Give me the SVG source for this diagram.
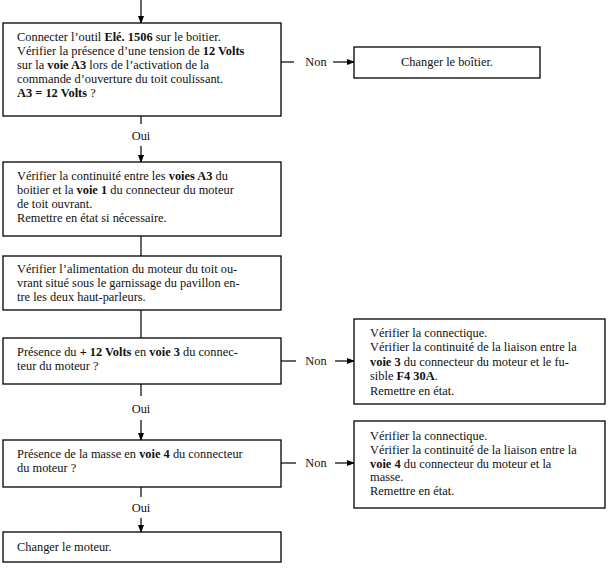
<svg xmlns="http://www.w3.org/2000/svg" width="611" height="572" viewBox="0 0 611 572">
<style>
.box{fill:#fff;stroke:#000;stroke-width:1.3}
.t{font-family:"Liberation Serif","DejaVu Serif",serif;font-size:12.4px;fill:#111}
.b{font-weight:bold}
.c{stroke:#000;stroke-width:1.2;fill:none}
.a{stroke:#000;stroke-width:1.2;fill:none;marker-end:url(#ah)}
.m{text-anchor:middle}
</style>
<defs>
<marker id="ah" markerWidth="8" markerHeight="6" refX="7" refY="3" orient="auto" markerUnits="userSpaceOnUse">
<path d="M0,0 L8,3 L0,6 z" fill="#000"/>
</marker>
</defs>
<rect width="611" height="572" fill="#fff"/>
<g id="connectors">
<line class="a" x1="141" y1="0" x2="141" y2="23"/>
<line class="c" x1="141" y1="116" x2="141" y2="124"/>
<text class="t m" x="141" y="140">Oui</text>
<line class="a" x1="141" y1="146" x2="141" y2="162"/>
<line class="c" x1="141" y1="236" x2="141" y2="256"/>
<line class="c" x1="141" y1="310" x2="141" y2="338"/>
<line class="c" x1="141" y1="384" x2="141" y2="396"/>
<text class="t m" x="141" y="413">Oui</text>
<line class="a" x1="141" y1="420" x2="141" y2="440"/>
<line class="c" x1="141" y1="487" x2="141" y2="497"/>
<text class="t m" x="141" y="512">Oui</text>
<line class="a" x1="141" y1="518" x2="141" y2="532"/>
<line class="c" x1="281" y1="62" x2="294" y2="62"/>
<text class="t m" x="316" y="66">Non</text>
<line class="a" x1="333" y1="62" x2="354" y2="62"/>
<line class="c" x1="281" y1="361" x2="296" y2="361"/>
<text class="t m" x="316" y="365">Non</text>
<line class="a" x1="335" y1="361" x2="354" y2="361"/>
<line class="c" x1="281" y1="463" x2="296" y2="463"/>
<text class="t m" x="316" y="467">Non</text>
<line class="a" x1="335" y1="463" x2="354" y2="463"/>
</g>
<g id="n1">
<rect class="box" x="3" y="23" width="278" height="93"/>
<text class="t" x="17" y="41">Connecter l’outil <tspan class="b">Elé. 1506</tspan> sur le boitier.</text>
<text class="t" x="17" y="55">Vérifier la présence d’une tension de <tspan class="b">12 Volts</tspan></text>
<text class="t" x="17" y="69">sur la <tspan class="b">voie A3</tspan> lors de l’activation de la</text>
<text class="t" x="17" y="83">commande d’ouverture du toit coulissant.</text>
<text class="t" x="17" y="97"><tspan class="b">A3 = 12 Volts</tspan> ?</text>
</g>
<g id="n2">
<rect class="box" x="354" y="47" width="186" height="31"/>
<text class="t m" x="447" y="66">Changer le boîtier.</text>
</g>
<g id="n3">
<rect class="box" x="3" y="162" width="278" height="74"/>
<text class="t" x="17" y="180">Vérifier la continuité entre les <tspan class="b">voies A3</tspan> du</text>
<text class="t" x="17" y="194">boitier et la <tspan class="b">voie 1</tspan> du connecteur du moteur</text>
<text class="t" x="17" y="208">de toit ouvrant.</text>
<text class="t" x="17" y="222">Remettre en état si nécessaire.</text>
</g>
<g id="n4">
<rect class="box" x="3" y="256" width="278" height="54"/>
<text class="t" x="17" y="273">Vérifier l’alimentation du moteur du toit ou-</text>
<text class="t" x="17" y="287">vrant situé sous le garnissage du pavillon en-</text>
<text class="t" x="17" y="301">tre les deux haut-parleurs.</text>
</g>
<g id="n5">
<rect class="box" x="3" y="338" width="278" height="46"/>
<text class="t" x="17" y="356">Présence du <tspan class="b">+ 12 Volts</tspan> en <tspan class="b">voie 3</tspan> du connec-</text>
<text class="t" x="17" y="370">teur du moteur ?</text>
</g>
<g id="n6">
<rect class="box" x="354" y="319" width="251" height="85"/>
<text class="t" x="370" y="337">Vérifier la connectique.</text>
<text class="t" x="370" y="351">Vérifier la continuité de la liaison entre la</text>
<text class="t" x="370" y="366"><tspan class="b">voie 3</tspan> du connecteur du moteur et le fu-</text>
<text class="t" x="370" y="380">sible <tspan class="b">F4 30A</tspan>.</text>
<text class="t" x="370" y="395">Remettre en état.</text>
</g>
<g id="n7">
<rect class="box" x="3" y="440" width="278" height="47"/>
<text class="t" x="17" y="458">Présence de la masse en <tspan class="b">voie 4</tspan> du connecteur</text>
<text class="t" x="17" y="472">du moteur ?</text>
</g>
<g id="n8">
<rect class="box" x="354" y="421" width="251" height="87"/>
<text class="t" x="370" y="440">Vérifier la connectique.</text>
<text class="t" x="370" y="454">Vérifier la continuité de la liaison entre la</text>
<text class="t" x="370" y="468"><tspan class="b">voie 4</tspan> du connecteur du moteur et la</text>
<text class="t" x="370" y="481">masse.</text>
<text class="t" x="370" y="495">Remettre en état.</text>
</g>
<g id="n9">
<rect class="box" x="3" y="532" width="278" height="30"/>
<text class="t" x="17" y="551">Changer le moteur.</text>
</g>
</svg>
